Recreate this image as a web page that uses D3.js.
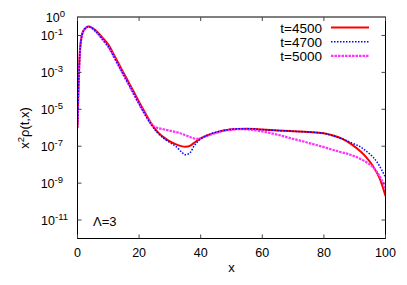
<!DOCTYPE html>
<html><head><meta charset="utf-8">
<script src="https://cdn.jsdelivr.net/npm/d3@7"></script>
<style>
body{margin:0;background:#fff;}
svg{display:block;font-family:"Liberation Sans",Arial,sans-serif;}
</style></head>
<body>
<svg id="c" width="407" height="285"></svg>
<script>
// ---- data (values are log10 of x^2 rho(t,x)) ----
const xCommon = [0,0.2,0.5,0.9,1.4,2,3,3.5,4.5,6,8,10,12,14,16,18,20,22,24,26,28,30,32,34,35,36.5,38,40,42,45,49.5,55,60,65,70,75,80,83,86,89,92,94,96,98,100];
const log4500 = [-6.0,-4.6,-2.9,-1.6,-1.0,-0.72,-0.55,-0.52,-0.56,-0.75,-1.1,-1.5,-2.1,-2.73,-3.35,-3.97,-4.6,-5.2,-5.78,-6.22,-6.52,-6.74,-6.9,-7.01,-7.03,-6.98,-6.8,-6.58,-6.42,-6.25,-6.1,-6.06,-6.1,-6.15,-6.19,-6.23,-6.3,-6.42,-6.6,-6.9,-7.3,-7.65,-8.1,-8.7,-9.7];
const log4700 = [-6.0,-4.7,-3.0,-1.65,-1.02,-0.73,-0.55,-0.52,-0.57,-0.78,-1.17,-1.6,-2.2,-2.83,-3.45,-4.07,-4.7,-5.3,-5.86,-6.28,-6.58,-6.8,-7.02,-7.35,-7.46,-7.36,-6.95,-6.6,-6.42,-6.24,-6.09,-6.05,-6.1,-6.15,-6.19,-6.23,-6.31,-6.44,-6.6,-6.82,-7.05,-7.3,-7.6,-8.05,-8.7];
const x5000 = [0,0.2,0.5,0.9,1.4,2,3,3.5,4.5,6,8,10,12,14,16,18,20,22,24,25.5,27,29,31,33,35,37,39,41,44,48,52,56,60,65,70,75,80,85,88.6,92,95,97,99,100];
const log5000 = [-5.85,-4.7,-3.0,-1.65,-1.02,-0.73,-0.55,-0.52,-0.58,-0.8,-1.2,-1.62,-2.22,-2.85,-3.47,-4.1,-4.72,-5.3,-5.8,-5.98,-6.05,-6.12,-6.2,-6.28,-6.4,-6.53,-6.6,-6.5,-6.33,-6.15,-6.08,-6.1,-6.2,-6.38,-6.6,-6.82,-7.05,-7.3,-7.46,-7.7,-8.0,-8.35,-8.9,-9.35];
const seriesNames = ["t=4500","t=4700","t=5000"];
const xTicks = [0,20,40,60,80,100];
const yTickExps = [0,-1,-3,-5,-7,-9,-11];

const series = [
  {name:seriesNames[0], xs:xCommon, ls:log4500, color:"#ff0000", width:2, dash:null},
  {name:seriesNames[1], xs:xCommon, ls:log4700, color:"#0000ff", width:1.5, dash:"1.5,1.5"},
  {name:seriesNames[2], xs:x5000, ls:log5000, color:"#ff33ff", width:2.2, dash:"2.5,1"}
];

const L=77.5, R=385.5, T=17, B=238.5;
const svg = d3.select("#c");
const x = d3.scaleLinear().domain([0,100]).range([L,R]);
const y = d3.scaleLog().domain([1e-12,1]).range([B,T]);

const line = d3.line().x(d=>x(d[0])).y(d=>y(d[1])).curve(d3.curveCatmullRom.alpha(0.5));
svg.append("clipPath").attr("id","cp").append("rect")
  .attr("x",L).attr("y",T).attr("width",R-L).attr("height",B-T);
[series[0],series[2],series[1]].forEach(s=>{
  const pts = s.xs.map((xv,i)=>[xv, Math.pow(10,s.ls[i])]);
  svg.append("path").attr("d",line(pts)).attr("fill","none")
    .attr("stroke",s.color).attr("stroke-width",s.width)
    .attr("stroke-dasharray",s.dash).attr("clip-path","url(#cp)");
});

// frame
svg.append("rect").attr("x",L).attr("y",T).attr("width",R-L).attr("height",B-T)
  .attr("fill","none").attr("stroke","#000").attr("stroke-width",1);

const tk=4;
xTicks.forEach(v=>{
  const px=x(v);
  svg.append("line").attr("x1",px).attr("x2",px).attr("y1",B).attr("y2",B-tk).attr("stroke","#444");
  svg.append("line").attr("x1",px).attr("x2",px).attr("y1",T).attr("y2",T+tk).attr("stroke","#444");
  svg.append("text").attr("x",px).attr("y",B+18).attr("text-anchor","middle")
    .attr("font-size",12.5).text(v);
});
yTickExps.forEach(e=>{
  const py=y(Math.pow(10,e));
  if(e!==0){
    svg.append("line").attr("x1",L).attr("x2",L+tk).attr("y1",py).attr("y2",py).attr("stroke","#444");
    svg.append("line").attr("x1",R).attr("x2",R-tk).attr("y1",py).attr("y2",py).attr("stroke","#444");
  }
  const t=svg.append("text").attr("x",e===0?65:(e<=-10?68:63)).attr("y",py+5).attr("text-anchor","end").attr("font-size",12.5);
  t.append("tspan").text("10");
  t.append("tspan").attr("dy",-5).attr("font-size",9.5).text(e===0?"0":"-"+(-e));
});

svg.append("text").attr("x",x(50)).attr("y",272).attr("text-anchor","middle").attr("font-size",13).text("x");
const yl = svg.append("text").attr("transform","translate(29,128) rotate(-90)").attr("text-anchor","middle").attr("font-size",13);
yl.append("tspan").text("x");
yl.append("tspan").attr("dy",-5).attr("font-size",9.5).text("2");
yl.append("tspan").attr("dy",5).text("ρ(t,x)");

svg.append("text").attr("x",93).attr("y",226).attr("font-size",13).text("Λ=3");

series.forEach((s,i)=>{
  const ly=27.5+i*14.2;
  svg.append("text").attr("x",322).attr("y",ly+5).attr("text-anchor","end").attr("font-size",13.5).text(s.name);
  svg.append("line").attr("x1",331).attr("x2",369).attr("y1",ly).attr("y2",ly)
    .attr("stroke",s.color).attr("stroke-width",s.width).attr("stroke-dasharray",s.dash);
});
</script>
</body></html>
